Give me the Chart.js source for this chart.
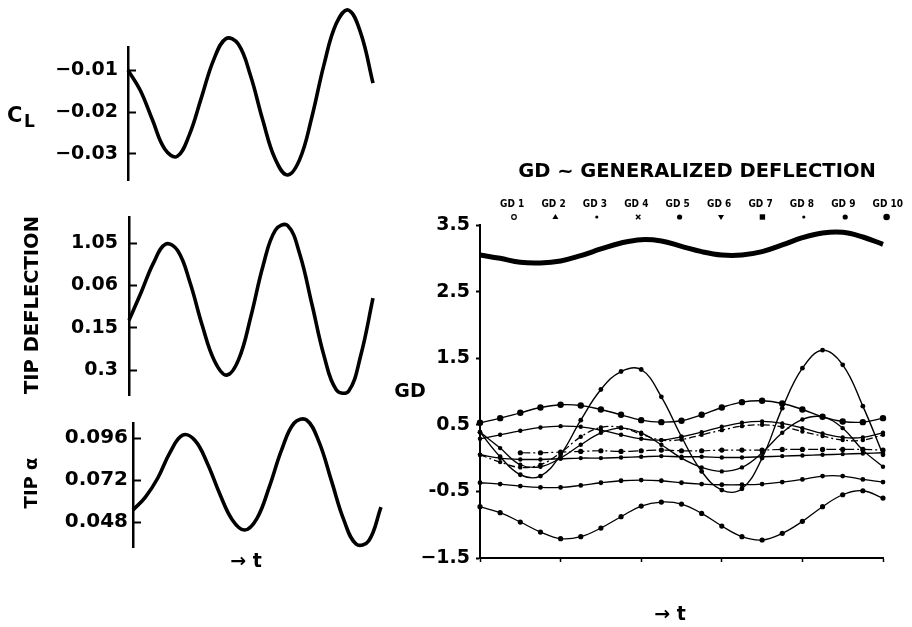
<!DOCTYPE html>
<html>
<head>
<meta charset="utf-8">
<title>Generalized Deflection</title>
<script src="https://cdn.jsdelivr.net/npm/chart.js@4"></script>
<style>
  body { margin: 0; background: #fff; }
  #wrap { position: relative; width: 912px; height: 627px; }
  canvas { position: absolute; left: 0; top: 0; }
</style>
</head>
<body>
<div id="wrap">
  <canvas id="clChart" width="912" height="627"></canvas>
  <canvas id="defChart" width="912" height="627"></canvas>
  <canvas id="alphaChart" width="912" height="627"></canvas>
  <canvas id="gdChart" width="912" height="627"></canvas>
</div>
<script>
// ---- left panels: 21 samples along t ----
const leftSamples = ['0','1','2','3','4','5','6','7','8','9','10','11','12','13','14','15','16','17','18','19','20'];

const clValues = [-0.0100, -0.0148, -0.0219, -0.0288, -0.0306, -0.0255, -0.0165, -0.0075, -0.0025, -0.0038,
  -0.0113, -0.0219, -0.0311, -0.0350, -0.0314, -0.0213, -0.0087, 0.0011, 0.0043, -0.0012, -0.0131];
const clTicks = [-0.01, -0.02, -0.03];
const clTickLabels = ['\u22120.01', '\u22120.02', '\u22120.03'];

// tip deflection axis is labelled unevenly, so values are in tick positions (0 = '0.3' ... 3 = '1.05')
const tipDefValues = [1.18, 1.84, 2.53, 2.98, 2.82, 2.07, 1.06, 0.22, -0.12, 0.26,
  1.28, 2.48, 3.31, 3.42, 2.74, 1.55, 0.32, -0.47, -0.50, 0.35, 1.70];
const tipDefTicks = [0, 1, 2, 3];
const tipDefTickLabels = ['0.3', '0.15', '0.06', '1.05'];

const tipAlphaValues = [0.0549, 0.0623, 0.0732, 0.0880, 0.0977, 0.0946, 0.0815, 0.0641, 0.0494, 0.0435,
  0.0502, 0.0683, 0.0895, 0.1046, 0.1063, 0.0938, 0.0717, 0.0493, 0.0355, 0.0372, 0.0566];
const tipAlphaTicks = [0.096, 0.072, 0.048];
const tipAlphaTickLabels = ['0.096', '0.072', '0.048'];

// ---- right panel: generalized deflections ----
const gdTime = [0, 0.25, 0.5, 0.75, 1, 1.25, 1.5, 1.75, 2, 2.25, 2.5, 2.75, 3, 3.25, 3.5, 3.75, 4, 4.25, 4.5, 4.75, 5];
const gdTimeTicks = [0, 1, 2, 3, 4, 5];
const gdLabels = ['GD 1', 'GD 2', 'GD 3', 'GD 4', 'GD 5', 'GD 6', 'GD 7', 'GD 8', 'GD 9', 'GD 10'];
const gd1 = [3.05, 3.00, 2.94, 2.93, 2.96, 3.04, 3.14, 3.23, 3.28, 3.26, 3.18, 3.10, 3.05, 3.05, 3.10, 3.20, 3.31, 3.38, 3.39, 3.32, 3.21];
const gd2 = [0.39, 0.02, -0.25, -0.27, 0.05, 0.57, 1.03, 1.30, 1.33, 0.92, 0.32, -0.20, -0.48, -0.46, 0.00, 0.75, 1.35, 1.62, 1.40, 0.78, 0.05];
const gd3 = [0.53, 0.60, 0.68, 0.76, 0.80, 0.79, 0.73, 0.65, 0.57, 0.54, 0.56, 0.65, 0.76, 0.84, 0.86, 0.82, 0.73, 0.62, 0.55, 0.54, 0.60];
const gd4 = [0.29, 0.35, 0.41, 0.46, 0.48, 0.47, 0.42, 0.35, 0.29, 0.27, 0.32, 0.39, 0.47, 0.53, 0.55, 0.52, 0.45, 0.37, 0.31, 0.31, 0.38];
const gd5 = [0.39, 0.15, -0.10, -0.13, 0.00, 0.20, 0.38, 0.45, 0.38, 0.20, 0.00, -0.14, -0.20, -0.14, 0.08, 0.38, 0.58, 0.62, 0.45, 0.12, -0.13];
const gd6 = [0.05, -0.06, -0.14, -0.10, 0.08, 0.32, 0.46, 0.46, 0.36, 0.27, 0.28, 0.35, 0.42, 0.48, 0.50, 0.47, 0.40, 0.33, 0.27, 0.27, 0.35];
const gd7 = [null, null, 0.08, 0.08, 0.09, 0.10, 0.11, 0.10, 0.11, 0.12, 0.11, 0.11, 0.12, 0.12, 0.12, 0.13, 0.13, 0.13, 0.13, 0.13, 0.12];
const gd8 = [0.05, 0.00, -0.02, -0.02, -0.01, 0.00, 0.00, 0.01, 0.02, 0.03, 0.02, 0.02, 0.01, 0.01, 0.02, 0.03, 0.04, 0.05, 0.06, 0.07, 0.08];
const gd9 = [-0.37, -0.39, -0.42, -0.44, -0.44, -0.41, -0.37, -0.34, -0.33, -0.34, -0.37, -0.39, -0.40, -0.40, -0.39, -0.36, -0.32, -0.27, -0.27, -0.32, -0.36];
const gd10 = [-0.73, -0.82, -0.96, -1.11, -1.21, -1.18, -1.05, -0.88, -0.72, -0.66, -0.69, -0.83, -1.02, -1.18, -1.23, -1.13, -0.95, -0.73, -0.55, -0.49, -0.60];
const gdTicks = [-1.5, -0.5, 0.5, 1.5, 2.5, 3.5];
const gdTickLabels = ['\u22121.5', '-0.5', '0.5', '1.5', '2.5', '3.5'];

// styles
const gdSeries = [gd1, gd2, gd3, gd4, gd5, gd6, gd7, gd8, gd9, gd10];
const gdLineWidths = [5, 1.4, 1.4, 1.3, 1.3, 1.3, 1.2, 1.4, 1.3, 1.3];
const gdPointRadius = [0, 2.4, 3.2, 2.2, 2.2, 2.2, 2.6, 2.2, 2.4, 2.6];
const gdDashes = [[], [], [], [], [], [7, 3, 2, 3], [10, 3, 2, 3], [], [], []];
const gdMarks = ['circleOpen', 'triangle', 'dotSmall', 'cross', 'circle', 'triangleDown', 'rect', 'dotSmall', 'circle', 'circleBig'];

Chart.defaults.font.family = '"DejaVu Sans", sans-serif';
Chart.defaults.color = '#000';

const textPlugin = {
  id: 'panelText',
  afterDraw(chart, args, opts) {
    const ctx = chart.ctx;
    (opts.items || []).forEach((it) => {
      ctx.save();
      ctx.fillStyle = '#000';
      ctx.font = it.font;
      ctx.textAlign = it.align || 'center';
      ctx.textBaseline = it.baseline || 'middle';
      ctx.translate(it.x, it.y);
      if (it.rotate) ctx.rotate(it.rotate);
      ctx.fillText(it.text, 0, 0);
      ctx.restore();
    });
  },
};

function drawMark(ctx, style, x, y) {
  ctx.beginPath();
  if (style === 'circleOpen') {
    ctx.lineWidth = 1.2;
    ctx.arc(x, y, 2.3, 0, Math.PI * 2);
    ctx.stroke();
    return;
  }
  if (style === 'cross') {
    ctx.lineWidth = 1.4;
    ctx.moveTo(x - 2.2, y - 2.2); ctx.lineTo(x + 2.2, y + 2.2);
    ctx.moveTo(x + 2.2, y - 2.2); ctx.lineTo(x - 2.2, y + 2.2);
    ctx.stroke();
    return;
  }
  if (style === 'triangle') {
    ctx.moveTo(x, y - 3); ctx.lineTo(x + 3, y + 2); ctx.lineTo(x - 3, y + 2); ctx.closePath();
  } else if (style === 'triangleDown') {
    ctx.moveTo(x, y + 3); ctx.lineTo(x + 3, y - 2); ctx.lineTo(x - 3, y - 2); ctx.closePath();
  } else if (style === 'rect') {
    ctx.rect(x - 2.7, y - 2.7, 5.4, 5.4);
  } else if (style === 'dotSmall') {
    ctx.arc(x, y, 1.6, 0, Math.PI * 2);
  } else if (style === 'circleBig') {
    ctx.arc(x, y, 3.3, 0, Math.PI * 2);
  } else {
    ctx.arc(x, y, 2.6, 0, Math.PI * 2);
  }
  ctx.fill();
}

const gdLegendPlugin = {
  id: 'gdLegend',
  afterDraw(chart, args, opts) {
    const ctx = chart.ctx;
    chart.data.datasets.forEach((ds, i) => {
      const x = opts.left + opts.step * i;
      ctx.save();
      ctx.fillStyle = '#000';
      ctx.strokeStyle = '#000';
      ctx.font = opts.font;
      ctx.textAlign = 'left';
      ctx.textBaseline = 'alphabetic';
      ctx.fillText(ds.label, x, opts.textY);
      drawMark(ctx, opts.marks[i], x + opts.markDx, opts.markY);
      ctx.restore();
    });
  },
};

function leftPanel(id, values, yMin, yMax, ticks, tickLabels, tickSize, tickPad, area, items) {
  const ctx = document.getElementById(id).getContext('2d');
  return new Chart(ctx, {
    type: 'line',
    data: {
      labels: leftSamples,
      datasets: [{
        data: values,
        borderColor: '#000',
        borderWidth: 3.6,
        pointRadius: 0,
        tension: 0.4,
        clip: false,
      }],
    },
    options: {
      responsive: false,
      animation: false,
      layout: { padding: { left: 0, top: area.top, right: 912 - area.right, bottom: 627 - area.bottom } },
      plugins: { legend: { display: false }, tooltip: { enabled: false }, panelText: { items: items } },
      scales: {
        x: { display: false, offset: false },
        y: {
          min: yMin,
          max: yMax,
          afterFit: (s) => { s.width = area.left; },
          afterBuildTicks: (s) => { s.ticks = ticks.map((v) => ({ value: v })); },
          ticks: {
            callback: (v, i) => tickLabels[i],
            font: { size: tickSize, weight: 'bold' },
            padding: tickPad,
          },
          grid: { drawOnChartArea: false, tickLength: -8, tickColor: '#000', tickWidth: 2 },
          border: { color: '#000', width: 2.5 },
        },
      },
    },
    plugins: [textPlugin],
  });
}

leftPanel('clChart', clValues, -0.0362, -0.0045, clTicks, clTickLabels, 19, 18,
  { left: 128, right: 373, top: 47, bottom: 180 },
  [
    { text: 'C', x: 7, y: 122, font: 'bold 21px "DejaVu Sans"', align: 'left', baseline: 'alphabetic' },
    { text: 'L', x: 24, y: 127, font: 'bold 17px "DejaVu Sans"', align: 'left', baseline: 'alphabetic' },
  ]);

leftPanel('defChart', tipDefValues, -0.59, 3.62, tipDefTicks, tipDefTickLabels, 19, 19,
  { left: 129, right: 373, top: 217, bottom: 395 },
  [
    { text: 'TIP DEFLECTION', x: 33, y: 305, font: 'bold 19.5px "DejaVu Sans"', rotate: -Math.PI / 2 },
  ]);

leftPanel('alphaChart', tipAlphaValues, 0.0338, 0.1046, tipAlphaTicks, tipAlphaTickLabels, 20, 13,
  { left: 133, right: 381, top: 423, bottom: 547 },
  [
    { text: 'TIP \u03b1', x: 32, y: 483, font: 'bold 18px "DejaVu Sans"', rotate: -Math.PI / 2 },
    { text: '\u2192 t', x: 246, y: 562, font: 'bold 19px "DejaVu Sans"' },
  ]);

// ---- right chart ----
const gdCtx = document.getElementById('gdChart').getContext('2d');
new Chart(gdCtx, {
  type: 'line',
  data: {
    datasets: gdSeries.map((vals, i) => ({
      label: gdLabels[i],
      data: vals.map((v, k) => ({ x: gdTime[k], y: v })),
      borderColor: '#000',
      borderWidth: gdLineWidths[i],
      borderDash: gdDashes[i],
      pointRadius: gdPointRadius[i],
      pointBackgroundColor: '#000',
      pointBorderWidth: 0,
      tension: 0.4,
      clip: false,
    })),
  },
  options: {
    responsive: false,
    animation: false,
    layout: { padding: { left: 0, top: 225, right: 29, bottom: 59 } },
    plugins: {
      legend: { display: false },
      tooltip: { enabled: false },
      gdLegend: {
        left: 500, step: 41.4, textY: 207, markY: 217, markDx: 14,
        font: 'bold 10px "DejaVu Sans Condensed", "Liberation Sans Narrow", sans-serif',
        marks: gdMarks,
      },
      panelText: {
        items: [
          { text: 'GD ~ GENERALIZED DEFLECTION', x: 697, y: 177, font: 'bold 19.5px "DejaVu Sans"', baseline: 'alphabetic' },
          { text: 'GD', x: 410, y: 392, font: 'bold 19px "DejaVu Sans"' },
          { text: '\u2192 t', x: 670, y: 615, font: 'bold 19px "DejaVu Sans"' },
        ],
      },
    },
    scales: {
      x: {
        type: 'linear',
        min: 0,
        max: 5,
        afterFit: (s) => { s.height = 10; },
        afterBuildTicks: (s) => { s.ticks = gdTimeTicks.map((v) => ({ value: v })); },
        ticks: { callback: () => '', font: { size: 2 } },
        grid: { drawOnChartArea: false, tickLength: 4, tickColor: '#000', tickWidth: 1.5 },
        border: { color: '#000', width: 2 },
      },
      y: {
        min: -1.5,
        max: 3.5,
        afterFit: (s) => { s.width = 480; },
        afterBuildTicks: (s) => { s.ticks = gdTicks.map((v) => ({ value: v })); },
        ticks: {
          callback: (v, i) => gdTickLabels[i],
          font: { size: 19, weight: 'bold' },
          padding: 6,
        },
        grid: { drawOnChartArea: false, tickLength: 4, tickColor: '#000', tickWidth: 2 },
        border: { color: '#000', width: 2 },
      },
    },
  },
  plugins: [textPlugin, gdLegendPlugin],
});
</script>
</body>
</html>
